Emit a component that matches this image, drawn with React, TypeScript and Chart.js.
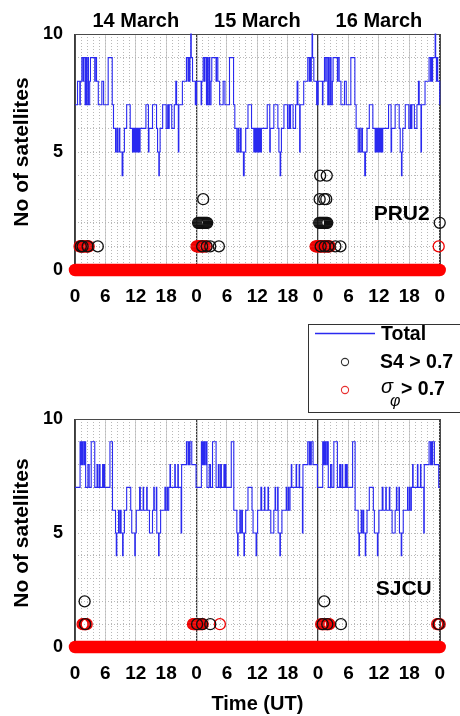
import React, { useEffect, useRef } from 'react';
import { Chart, registerables } from 'chart.js';

Chart.register(...registerables);

const FONT = '"Liberation Sans", Arial, Helvetica, sans-serif';
const BLUE = '#2a2af0';
const RED = '#ee0000';
const BLACK = '#111111';

// ---------- text / ticks ----------
const dayTitles = ['14 March', '15 March', '16 March'];
const hourTicks = [0, 6, 12, 18, 24, 30, 36, 42, 48, 54, 60, 66, 72];
const countTicks = [0, 5, 10];
const yTitle = 'No of satellites';
const xTitle = 'Time (UT)';
const legendLabels = ['Total', 'S4 > 0.7', '> 0.7'];
const sigmaSymbol = 'σ';
const phiSymbol = 'φ';
const stationNames = ['PRU2', 'SJCU'];

// ---------- PRU2 : total satellites, [UT hour of day, count] at each change ----------
const pru2TotalMar14 = [
  [0, 7], [0.5, 8], [0.95, 7], [1.05, 8], [1.35, 9], [1.6, 8], [1.7, 9], [2.0, 7], [2.2, 9], [2.3, 7],
  [2.55, 9], [2.65, 7], [2.9, 8], [3.05, 9], [3.9, 8], [4.0, 9], [4.25, 8], [4.6, 7], [5.3, 8], [5.65, 7],
  [6.55, 9], [7.35, 7], [7.6, 6], [8.0, 5], [8.25, 6], [8.4, 5], [8.7, 6], [8.85, 5], [9.3, 4], [9.45, 5],
  [9.75, 6], [10.2, 7], [10.9, 6], [11.35, 5], [11.5, 6], [11.7, 5], [11.85, 6], [12.05, 5], [12.2, 6], [12.35, 5],
  [12.5, 6], [12.7, 5], [12.85, 6], [14.0, 7], [14.5, 5], [14.6, 6], [15.3, 7], [16.1, 6], [16.3, 5], [16.55, 4],
  [16.65, 5], [16.8, 6], [17.3, 7], [18.0, 6], [18.3, 7], [18.45, 6], [18.6, 7], [19.1, 6], [19.6, 7], [19.9, 8],
  [20.05, 7], [20.4, 5], [20.5, 7], [21.2, 8], [22.0, 9], [22.3, 8], [22.4, 9], [22.6, 8], [22.7, 9], [22.85, 10],
  [22.95, 9], [23.2, 8], [23.75, 7], [23.85, 8], [23.95, 7],
];
const pru2TotalMar15 = [
  [0, 8], [0.45, 8], [0.9, 7], [1.0, 8], [1.3, 9], [1.55, 8], [1.65, 9], [1.95, 7], [2.15, 9], [2.25, 7],
  [2.5, 9], [2.6, 7], [2.85, 8], [3.0, 9], [3.85, 8], [3.95, 9], [4.2, 8], [4.55, 7], [5.25, 8], [5.6, 7],
  [6.5, 9], [7.3, 7], [7.55, 6], [7.95, 5], [8.2, 6], [8.35, 5], [8.65, 6], [8.8, 5], [9.25, 4], [9.4, 5],
  [9.7, 6], [10.15, 7], [10.85, 6], [11.3, 5], [11.45, 6], [11.65, 5], [11.8, 6], [12.0, 5], [12.15, 6], [12.3, 5],
  [12.45, 6], [12.65, 5], [12.8, 6], [13.95, 7], [14.45, 5], [14.55, 6], [15.25, 7], [16.05, 6], [16.25, 5], [16.5, 4],
  [16.6, 5], [16.75, 6], [17.25, 7], [17.95, 6], [18.25, 7], [18.4, 6], [18.55, 7], [19.05, 6], [19.55, 7], [19.85, 8],
  [20.0, 7], [20.35, 5], [20.45, 7], [21.15, 8], [21.95, 9], [22.25, 8], [22.35, 9], [22.55, 8], [22.65, 9], [22.8, 10],
  [22.9, 9], [23.15, 8], [23.7, 7], [23.8, 8], [23.9, 7],
];
const pru2TotalMar16 = [
  [0, 8], [0.4, 8], [0.85, 7], [0.95, 8], [1.25, 9], [1.5, 8], [1.6, 9], [1.9, 7], [2.1, 9], [2.2, 7],
  [2.45, 9], [2.55, 7], [2.8, 8], [2.95, 9], [3.8, 8], [3.9, 9], [4.15, 8], [4.5, 7], [5.2, 8], [5.55, 7],
  [6.45, 9], [7.25, 7], [7.5, 6], [7.9, 5], [8.15, 6], [8.3, 5], [8.6, 6], [8.75, 5], [9.2, 4], [9.35, 5],
  [9.65, 6], [10.1, 7], [10.8, 6], [11.25, 5], [11.4, 6], [11.6, 5], [11.75, 6], [11.95, 5], [12.1, 6], [12.25, 5],
  [12.4, 6], [12.6, 5], [12.75, 6], [13.9, 7], [14.4, 5], [14.5, 6], [15.2, 7], [16.0, 6], [16.2, 5], [16.45, 4],
  [16.55, 5], [16.7, 6], [17.2, 7], [17.9, 6], [18.2, 7], [18.35, 6], [18.5, 7], [19.0, 6], [19.5, 7], [19.8, 8],
  [19.95, 7], [20.3, 5], [20.4, 7], [21.1, 8], [21.9, 9], [22.2, 8], [22.3, 9], [22.5, 8], [22.6, 9], [23.1, 10],
  [23.2, 9], [23.35, 8], [23.5, 9], [23.6, 8], [24.0, 7],
];

// PRU2 : S4 > 0.7 (black circles)
const pru2S4Hours = [
  1.15, 1.5, 2.5, 4.5,
  25.3,
  24.3, 24.5, 24.7, 24.9, 25.1, 25.3, 25.5, 25.7, 25.9, 26.1,
  25.1, 26.0, 26.7, 28.4,
  48.4, 49.7,
  48.3, 49.2, 49.6,
  48.2, 48.4, 48.6, 48.8, 49.0, 49.2, 49.4, 49.6, 49.8,
  48.5, 49.3, 50.0, 51.4, 52.4,
  72.0,
];
const pru2S4Counts = [
  1, 1, 1, 1,
  3,
  2, 2, 2, 2, 2, 2, 2, 2, 2, 2,
  1, 1, 1, 1,
  4, 4,
  3, 3, 3,
  2, 2, 2, 2, 2, 2, 2, 2, 2,
  1, 1, 1, 1, 1,
  2,
];
// PRU2 : sigma_phi > 0.7 (red circles, nonzero counts)
const pru2SigmaHours = [
  0.9, 1.1, 1.3, 1.5, 1.7, 1.9, 2.1, 2.3, 2.5, 2.7,
  24.0, 24.2, 24.4, 24.6, 24.8, 25.0, 25.2, 25.4, 25.6, 25.9,
  47.5, 47.7, 47.9, 48.1, 48.3, 48.5, 48.7, 48.9, 49.1, 49.3, 49.5, 49.7, 49.9, 50.1, 50.3,
  71.8,
];
const pru2SigmaCounts = [
  1, 1, 1, 1, 1, 1, 1, 1, 1, 1,
  1, 1, 1, 1, 1, 1, 1, 1, 1, 1,
  1, 1, 1, 1, 1, 1, 1, 1, 1, 1, 1, 1, 1, 1, 1,
  1,
];
// PRU2 : sigma_phi > 0.7 count is 0 over the rest of the span
const pru2SigmaZeroHours = [0, 72];
const pru2SigmaZeroCounts = [0, 0];

// ---------- SJCU : total satellites ----------
const sjcuTotalMar14 = [
  [0, 7], [1.0, 9], [1.2, 8], [1.3, 9], [1.5, 8], [1.6, 9], [1.85, 8], [1.95, 9], [2.1, 7], [2.55, 8],
  [2.8, 7], [3.2, 9], [3.9, 7], [4.35, 8], [4.5, 7], [4.8, 8], [4.95, 7], [5.45, 8], [5.6, 7], [5.7, 8],
  [5.85, 7], [6.9, 9], [7.4, 6], [8.0, 5], [8.15, 4], [8.25, 5], [8.6, 6], [8.7, 5], [8.95, 6], [9.1, 5],
  [9.4, 4], [9.5, 5], [9.75, 6], [10.2, 7], [11.0, 6], [11.2, 5], [11.8, 4], [11.9, 5], [12.1, 6], [12.75, 7],
  [12.9, 6], [13.45, 7], [13.55, 6], [14.15, 7], [14.25, 6], [14.7, 5], [15.3, 6], [15.55, 7], [15.65, 6], [16.05, 7],
  [16.15, 5], [16.5, 4], [16.6, 5], [16.9, 6], [17.75, 7], [17.85, 6], [18.15, 7], [18.25, 6], [18.5, 7], [18.75, 8],
  [18.85, 7], [19.7, 8], [19.8, 7], [20.3, 8], [20.4, 7], [20.95, 5], [21.05, 8], [22.0, 9], [22.3, 8], [22.4, 9],
  [22.6, 8], [22.7, 9], [23.05, 8], [23.9, 7],
];
const sjcuTotalMar15 = [
  [0, 7], [0.95, 9], [1.15, 8], [1.25, 9], [1.45, 8], [1.55, 9], [1.8, 8], [1.9, 9], [2.05, 7], [2.5, 8],
  [2.75, 7], [3.15, 9], [3.85, 7], [4.3, 8], [4.45, 7], [4.75, 8], [4.9, 7], [5.4, 8], [5.55, 7], [5.65, 8],
  [5.8, 7], [6.85, 9], [7.35, 6], [7.95, 5], [8.1, 4], [8.2, 5], [8.55, 6], [8.65, 5], [8.9, 6], [9.05, 5],
  [9.35, 4], [9.45, 5], [9.7, 6], [10.15, 7], [10.95, 6], [11.15, 5], [11.75, 4], [11.85, 5], [12.05, 6], [12.7, 7],
  [12.85, 6], [13.4, 7], [13.5, 6], [14.1, 7], [14.2, 6], [14.65, 5], [15.25, 6], [15.5, 7], [15.6, 6], [16.0, 7],
  [16.1, 5], [16.45, 4], [16.55, 5], [16.85, 6], [17.7, 7], [17.8, 6], [18.1, 7], [18.2, 6], [18.45, 7], [18.7, 8],
  [18.8, 7], [19.65, 8], [19.75, 7], [20.25, 8], [20.35, 7], [20.9, 5], [21.0, 8], [21.95, 9], [22.25, 8], [22.35, 9],
  [22.55, 8], [22.65, 9], [23.0, 8], [23.85, 7],
];
const sjcuTotalMar16 = [
  [0, 7], [0.9, 9], [1.1, 8], [1.2, 9], [1.4, 8], [1.5, 9], [1.75, 8], [1.85, 9], [2.0, 7], [2.45, 8],
  [2.7, 7], [3.1, 9], [3.8, 7], [4.25, 8], [4.4, 7], [4.7, 8], [4.85, 7], [5.35, 8], [5.5, 7], [5.6, 8],
  [5.75, 7], [6.8, 9], [7.3, 6], [7.9, 5], [8.05, 4], [8.15, 5], [8.5, 6], [8.6, 5], [8.85, 6], [9.0, 5],
  [9.3, 4], [9.4, 5], [9.65, 6], [10.1, 7], [10.9, 6], [11.1, 5], [11.7, 4], [11.8, 5], [12.0, 6], [12.65, 7],
  [12.8, 6], [13.35, 7], [13.45, 6], [14.05, 7], [14.15, 6], [14.6, 5], [15.2, 6], [15.45, 7], [15.55, 6], [15.95, 7],
  [16.05, 5], [16.4, 4], [16.5, 5], [16.8, 6], [17.65, 7], [17.75, 6], [18.05, 7], [18.15, 6], [18.4, 7], [18.65, 8],
  [18.75, 7], [19.6, 8], [19.7, 7], [20.2, 8], [20.3, 7], [20.85, 5], [20.95, 8], [21.9, 9], [22.2, 8], [22.3, 9],
  [22.5, 8], [22.6, 9], [22.95, 8], [23.8, 7], [24.0, 7],
];

// SJCU : S4 > 0.7
const sjcuS4Hours = [1.9, 2.0, 24.1, 25.1, 26.7, 49.2, 48.9, 49.8, 52.5, 71.8];
const sjcuS4Counts = [2, 1, 1, 1, 1, 2, 1, 1, 1, 1];
// SJCU : sigma_phi > 0.7 (nonzero)
const sjcuSigmaHours = [
  1.5, 1.7, 1.9, 2.1, 2.3,
  23.3, 23.5, 23.7, 23.9, 24.1, 24.3, 24.5, 24.7, 24.9, 25.2, 28.6,
  48.6, 48.8, 49.0, 49.2, 49.4, 49.6, 49.8, 50.0, 50.2,
  71.5, 71.7, 72.0,
];
const sjcuSigmaCounts = [
  1, 1, 1, 1, 1,
  1, 1, 1, 1, 1, 1, 1, 1, 1, 1, 1,
  1, 1, 1, 1, 1, 1, 1, 1, 1,
  1, 1, 1,
];
const sjcuSigmaZeroHours = [0, 72];
const sjcuSigmaZeroCounts = [0, 0];

// ---------- helpers ----------
type Pair = number[];
const dayPoints = (days: Pair[][]) =>
  days.flatMap((day, d) => day.map(([h, n]) => ({ x: d * 24 + h, y: n })));
const zipPoints = (xs: number[], ys: number[]) => xs.map((x, i) => ({ x, y: ys[i] }));

const framePlugin = {
  id: 'frame',
  beforeDatasetsDraw(chart: any) {
    const { ctx, chartArea: a } = chart;
    ctx.save();
    ctx.strokeStyle = '#4a4a4a';
    ctx.lineWidth = 1;
    ctx.strokeRect(Math.round(a.left) + 0.5, Math.round(a.top) + 0.5, Math.round(a.right - a.left), Math.round(a.bottom - a.top));
    ctx.restore();
  },
};

const textPlugin = {
  id: 'texts',
  afterDraw(chart: any, _args: any, opts: any) {
    const { ctx, chartArea: a } = chart;
    const xs = chart.scales.x;
    ctx.save();
    ctx.fillStyle = '#000';
    ctx.textBaseline = 'alphabetic';
    if (opts.showDays) {
      ctx.font = `bold 20px ${FONT}`;
      ctx.textAlign = 'center';
      dayTitles.forEach((t, i) => ctx.fillText(t, xs.getPixelForValue(12 + 24 * i), 27));
    }
    ctx.font = `bold 21px ${FONT}`;
    ctx.textAlign = 'right';
    ctx.fillText(opts.station, a.right + opts.stationDx, a.top + opts.stationDy);

    if (opts.showLegend) {
      const L = 308.5, T = 14.5;
      ctx.strokeStyle = '#333';
      ctx.lineWidth = 1;
      ctx.strokeRect(L, T, 220, 88);
      ctx.strokeStyle = BLUE;
      ctx.lineWidth = 1.3;
      ctx.beginPath();
      ctx.moveTo(315, 23.5);
      ctx.lineTo(375, 23.5);
      ctx.stroke();
      ctx.textAlign = 'left';
      ctx.font = `bold 19.5px ${FONT}`;
      ctx.fillText(legendLabels[0], 381, 30);
      ctx.strokeStyle = '#333';
      ctx.lineWidth = 1.1;
      ctx.beginPath();
      ctx.arc(345, 52, 3.6, 0, Math.PI * 2);
      ctx.stroke();
      ctx.fillText(legendLabels[1], 380, 58);
      ctx.strokeStyle = '#e83030';
      ctx.beginPath();
      ctx.arc(345, 80, 3.6, 0, Math.PI * 2);
      ctx.stroke();
      ctx.font = `italic 20px ${FONT}`;
      ctx.fillText(sigmaSymbol, 381, 83);
      const sw = ctx.measureText(sigmaSymbol).width;
      ctx.font = `italic 16px ${FONT}`;
      ctx.fillText(phiSymbol, 381 + sw - 3, 96);
      ctx.font = `bold 19.5px ${FONT}`;
      ctx.fillText(legendLabels[2], 401, 85);
    }
    ctx.restore();
  },
};

function makeConfig(p: any) {
  const circle = (data: any[], color: string) => ({
    data,
    showLine: false,
    pointStyle: 'circle',
    pointRadius: 5.5,
    pointBorderWidth: 1.3,
    pointBorderColor: color,
    pointBackgroundColor: 'rgba(0,0,0,0)',
    clip: false,
  });
  const yTickFont = { family: FONT, size: 18, weight: 'bold' as const };
  const xTickFont = { family: FONT, size: 19, weight: 'bold' as const };
  return {
    type: 'scatter' as const,
    data: {
      datasets: [
        { label: legendLabels[1], ...circle(zipPoints(p.s4Hours, p.s4Counts), BLACK) },
        { label: 'sigma', ...circle(zipPoints(p.sigmaHours, p.sigmaCounts), RED) },
        {
          label: 'sigma zero',
          data: zipPoints(p.zeroHours, p.zeroCounts),
          showLine: true,
          pointRadius: 0,
          borderColor: '#ff0000',
          borderWidth: 12.5,
          borderCapStyle: 'round',
          clip: false,
        },
        {
          label: legendLabels[0],
          data: dayPoints(p.totals),
          showLine: true,
          stepped: 'before',
          pointRadius: 0,
          borderColor: BLUE,
          borderWidth: 1.1,
          clip: false,
        },
      ],
    },
    options: {
      animation: false,
      responsive: true,
      maintainAspectRatio: false,
      events: [],
      layout: { padding: { top: p.padTop, right: 7, left: 0, bottom: 0 } },
      plugins: {
        legend: { display: false },
        tooltip: { enabled: false },
        texts: p.texts,
      },
      scales: {
        x: {
          type: 'linear',
          position: 'bottom',
          min: 0,
          max: 72,
          afterBuildTicks: (s: any) => {
            s.ticks = hourTicks.map((v) => ({ value: v }));
          },
          afterFit: (s: any) => {
            s.height = p.xHeight;
          },
          ticks: {
            callback: (v: any) => String(Number(v) % 24),
            font: xTickFont,
            color: '#000',
            padding: 15,
            maxRotation: 0,
            autoSkip: false,
          },
          grid: {
            drawTicks: false,
            color: (c: any) => (c.tick && c.tick.value % 24 === 0 ? '#3a3a3a' : '#cdcdcd'),
            lineWidth: (c: any) => (c.tick && c.tick.value % 24 === 0 ? 1.3 : 1),
          },
          border: { display: false },
          title: p.showXTitle
            ? { display: true, text: xTitle, color: '#000', font: { family: FONT, size: 20, weight: 'bold' }, padding: { top: 0, bottom: 0 } }
            : { display: false },
        },
        xMinor: {
          type: 'linear',
          position: 'bottom',
          min: 0,
          max: 72,
          afterFit: (s: any) => {
            s.height = 0;
          },
          ticks: { display: false, stepSize: 1.2 },
          grid: { drawTicks: false, color: '#b8b8b8', lineWidth: 1 },
          border: { display: false, dash: [1, 2] },
        },
        y: {
          type: 'linear',
          position: 'left',
          min: 0,
          max: 10,
          afterBuildTicks: (s: any) => {
            s.ticks = countTicks.map((v) => ({ value: v }));
          },
          afterFit: (s: any) => {
            s.width = 75;
          },
          ticks: { font: yTickFont, color: '#000', padding: 12 },
          grid: { drawOnChartArea: false, drawTicks: false },
          border: { display: false },
          title: { display: true, text: yTitle, color: '#000', font: { family: FONT, size: 21, weight: 'bold' }, padding: { top: 10, bottom: 0 } },
        },
        yMinor: {
          type: 'linear',
          position: 'left',
          min: 0,
          max: 10,
          afterFit: (s: any) => {
            s.width = 0;
          },
          ticks: { display: false, stepSize: 1 },
          grid: { drawTicks: false, color: '#b8b8b8', lineWidth: 1 },
          border: { display: false, dash: [1, 2] },
        },
      },
    },
    plugins: [framePlugin, textPlugin],
  };
}

function Panel(props: { top: number; height: number; config: any }) {
  const ref = useRef<HTMLCanvasElement | null>(null);
  useEffect(() => {
    if (!ref.current) return;
    const chart = new Chart(ref.current, props.config);
    return () => chart.destroy();
  }, []);
  return (
    <div style={{ position: 'absolute', left: 0, top: props.top, width: 460, height: props.height }}>
      <canvas ref={ref} />
    </div>
  );
}

export default function App() {
  const topConfig = makeConfig({
    totals: [pru2TotalMar14, pru2TotalMar15, pru2TotalMar16],
    s4Hours: pru2S4Hours,
    s4Counts: pru2S4Counts,
    sigmaHours: pru2SigmaHours,
    sigmaCounts: pru2SigmaCounts,
    zeroHours: pru2SigmaZeroHours,
    zeroCounts: pru2SigmaZeroCounts,
    padTop: 34,
    xHeight: 40,
    showXTitle: false,
    texts: { showDays: true, showLegend: false, station: stationNames[0], stationDx: -10, stationDy: 186 },
  });
  const bottomConfig = makeConfig({
    totals: [sjcuTotalMar14, sjcuTotalMar15, sjcuTotalMar16],
    s4Hours: sjcuS4Hours,
    s4Counts: sjcuS4Counts,
    sigmaHours: sjcuSigmaHours,
    sigmaCounts: sjcuSigmaCounts,
    zeroHours: sjcuSigmaZeroHours,
    zeroCounts: sjcuSigmaZeroCounts,
    padTop: 109,
    xHeight: 69,
    showXTitle: true,
    texts: { showDays: false, showLegend: true, station: stationNames[1], stationDx: -8, stationDy: 176 },
  });
  return (
    <div style={{ position: 'absolute', left: 0, top: 0, width: 460, height: 716, background: '#fff' }}>
      <Panel top={0} height={310} config={topConfig} />
      <Panel top={310} height={406} config={bottomConfig} />
    </div>
  );
}
